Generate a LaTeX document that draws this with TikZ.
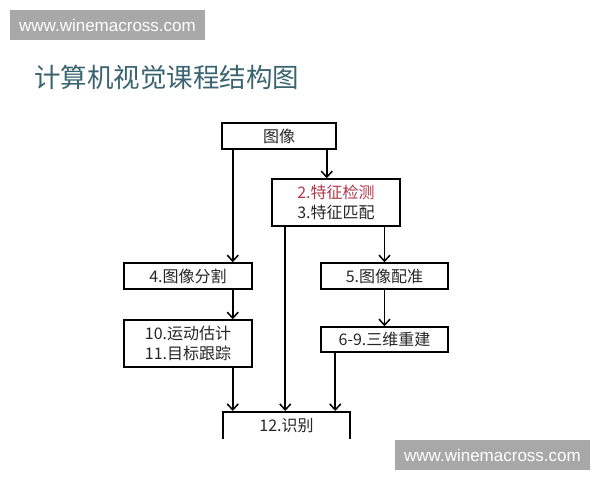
\documentclass[tikz,border=0pt]{standalone}
\usepackage{fontspec}
\setmainfont{Noto Sans CJK SC}
\newfontfamily\markfont{Liberation Sans}
\usepackage{xcolor}
\usetikzlibrary{calc, arrows.meta}

\definecolor{titlecol}{HTML}{3A6470}
\definecolor{redcol}{HTML}{B0384A}
\definecolor{markgray}{HTML}{A8A8A8}

\begin{document}
\begin{tikzpicture}[x=1pt, y=-1pt,
    box/.style={draw=black, line width=1.5pt, rectangle, inner sep=0pt, font=\fontsize{16}{20}\selectfont, text=black!85, align=center},
    arr/.style={line width=1.7pt, -{Straight Barb[length=6pt, width=11pt, line width=1.5pt]}},
    sitemark/.style={fill=markgray, text=white, inner sep=0pt, font=\markfont\fontsize{17}{20}\selectfont}]

        \useasboundingbox (0,0) rectangle (600,480);

        %% Watermarks
        \node (markTop) [sitemark, minimum width=195pt, minimum height=30pt] at (107.5,25) {www.winemacross.com};
        \node (markBottom) [sitemark, minimum width=195pt, minimum height=30pt] at (492.5,455) {www.winemacross.com};

        %% Title
        \node (title) [anchor=west, text=titlecol, font=\fontsize{26.5}{30}\selectfont, inner sep=0pt] at (34,77) {计算机视觉课程结构图};

        %% Boxes
        \node (img) [box, minimum width=114pt, minimum height=26pt] at (279,136) {图像};
        \node (feat) [box, minimum width=128pt, minimum height=47pt] at (336,202.5) {\textcolor{redcol}{2.特征检测}\\3.特征匹配};
        \node (seg) [box, minimum width=128pt, minimum height=26pt] at (188,276) {4.图像分割};
        \node (reg) [box, minimum width=127pt, minimum height=26pt] at (384.5,276) {5.图像配准};
        \node (motion) [box, minimum width=128pt, minimum height=47pt] at (188,343.5) {10.运动估计\\11.目标跟踪};
        \node (recon) [box, minimum width=127pt, minimum height=25pt] at (384.5,339.5) {6-9.三维重建};
        \begin{scope}
            \clip (0,0) rectangle (600,438);
            \node (recog) [box, minimum width=127pt, minimum height=46pt, anchor=north] at (286.5,411) {12.识别\\\mbox{}};
        \end{scope}

        %% Columns of the connectors
        \coordinate (colA) at ($(img.south west)+(11.5,0)$);
        \coordinate (colB) at ($(feat.south west)+(14,0)$);
        \coordinate (colC) at ($(img.south east)+(-10,0)$);
        \coordinate (colD) at ($(recon.south west)+(15,0)$);

        %% Arrows
        \draw [arr] (colA) -- (colA |- seg.north);
        \draw [arr] (colC) -- (colC |- feat.north);
        \draw [arr] (reg.north |- feat.south) -- (reg.north);
        \draw [arr] (colB) -- (colB |- recog.north);
        \draw [arr] (colA |- seg.south) -- (colA |- motion.north);
        \draw [arr] (reg.south) -- (recon.north);
        \draw [arr] (colA |- motion.south) -- (colA |- recog.north);
        \draw [arr] (colD) -- (colD |- recog.north);

    \end{tikzpicture}
\end{document}
